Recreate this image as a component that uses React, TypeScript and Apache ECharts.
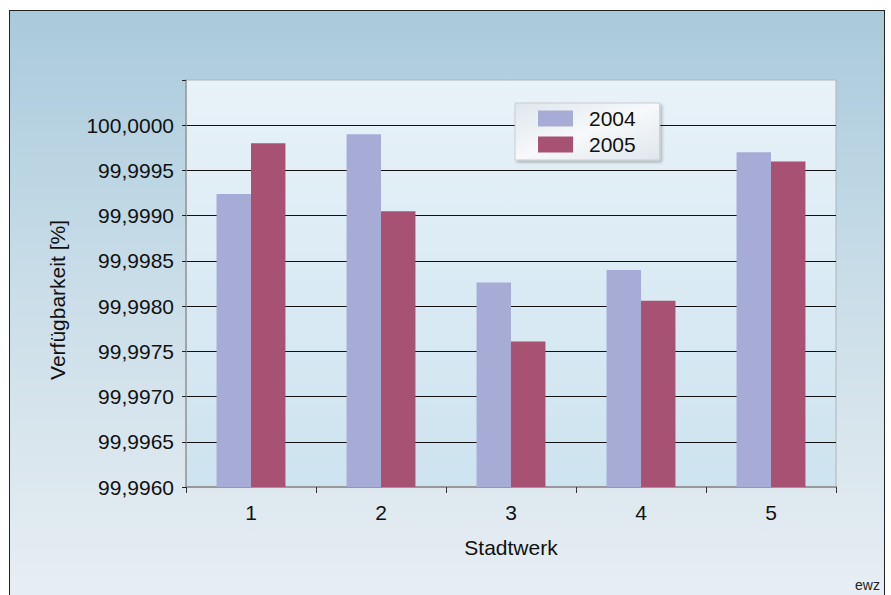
import React, { useEffect, useRef } from "react";
import * as echarts from "echarts";

const categories = ["1", "2", "3", "4", "5"];
const series2004 = [99.99924, 99.9999, 99.99826, 99.9984, 99.9997];
const series2005 = [99.9998, 99.99905, 99.99761, 99.99806, 99.9996];
const seriesNames = ["2004", "2005"];
const yMin = 99.996;
const yMax = 100.0005;
const yStep = 0.0005;

const FONT = "'Liberation Sans', Arial, Helvetica, sans-serif";

export default function App() {
  const ref = useRef<HTMLDivElement>(null);
  useEffect(() => {
    if (!ref.current) return;
    const chart = echarts.init(ref.current, undefined, { renderer: "svg" });
    chart.setOption({
      animation: false,
      backgroundColor: "transparent",
      textStyle: { fontFamily: FONT },
      grid: {
        left: 186,
        top: 80,
        right: 55,
        bottom: 108,
        show: true,
        borderColor: "#b0b4b8",
        borderWidth: 1,
        backgroundColor: new echarts.graphic.LinearGradient(0, 0, 0, 1, [
          { offset: 0, color: "#e8f2f9" },
          { offset: 1, color: "#cde3ef" },
        ]),
      },
      legend: {
        orient: "vertical",
        left: 515,
        top: 103,
        itemWidth: 35,
        itemHeight: 16,
        itemGap: 5,
        padding: [5, 24, 5, 23],
        backgroundColor: new echarts.graphic.LinearGradient(0, 0, 1, 1, [
          { offset: 0, color: "#dfe6ec" },
          { offset: 0.5, color: "#f7f9fb" },
          { offset: 1, color: "#dfe6ec" },
        ]),
        borderColor: "#c9cdd1",
        borderWidth: 1,
        shadowColor: "rgba(0,0,0,0.25)",
        shadowBlur: 3,
        shadowOffsetX: 2,
        shadowOffsetY: 2,
        icon: "rect",
        textStyle: {
          fontSize: 21,
          color: "#111",
          fontFamily: FONT,
          lineHeight: 16,
          padding: [0, 0, 0, 11],
        },
        data: seriesNames,
      },
      xAxis: {
        type: "category",
        data: categories,
        name: "Stadtwerk",
        nameLocation: "middle",
        nameGap: 50,
        nameTextStyle: { fontSize: 21, color: "#111", fontFamily: FONT },
        axisLine: { lineStyle: { color: "#999", width: 2 } },
        axisTick: { show: true, length: 6, lineStyle: { color: "#333" } },
        axisLabel: { fontSize: 21, color: "#111", margin: 15, fontFamily: FONT },
        splitLine: { show: false },
      },
      yAxis: {
        type: "value",
        min: yMin,
        max: yMax,
        interval: yStep,
        axisLine: { show: true, lineStyle: { color: "#999", width: 1.5 } },
        axisTick: { show: true, length: 4, lineStyle: { color: "#222" } },
        axisLabel: {
          fontSize: 21,
          color: "#111",
          margin: 12,
          fontFamily: FONT,
          formatter: (v: number) =>
            v > 100.0001 ? "" : v.toFixed(4).replace(".", ","),
        },
        splitLine: {
          show: true,
          showMinLine: false,
          showMaxLine: false,
          lineStyle: { color: "#111", width: 1 },
        },
      },
      series: [
        {
          name: seriesNames[0],
          type: "bar",
          data: series2004,
          barWidth: "26.5%",
          barGap: "0%",
          itemStyle: { color: "#a6acd6" },
        },
        {
          name: seriesNames[1],
          type: "bar",
          data: series2005,
          barWidth: "26.5%",
          barGap: "0%",
          itemStyle: { color: "#a85273" },
        },
      ],
      graphic: [
        {
          type: "text",
          x: 57,
          y: 300,
          rotation: Math.PI / 2,
          style: {
            text: "Verfügbarkeit [%]",
            fontSize: 21,
            fontFamily: FONT,
            fill: "#111",
            textAlign: "center",
            textVerticalAlign: "middle",
          },
        },
        {
          type: "text",
          x: 855,
          y: 578,
          style: {
            text: "ewz",
            fontSize: 14,
            fontFamily: FONT,
            fill: "#222",
            textAlign: "left",
            textVerticalAlign: "top",
          },
        },
      ],
    });
    return () => chart.dispose();
  }, []);

  return (
    <div
      style={{
        position: "fixed",
        left: 0,
        top: 0,
        width: 891,
        height: 595,
        background: "#ffffff",
        overflow: "hidden",
      }}
    >
      <div
        style={{
          position: "absolute",
          left: 9,
          top: 10,
          width: 874,
          height: 600,
          borderLeft: "1.5px solid #222",
          borderTop: "1.5px solid #222",
          borderRight: "1.5px solid #222",
          background: "linear-gradient(to bottom, #a9cadc 0%, #c9dde8 45%, #e9eff4 100%)",
        }}
      />
      <div
        ref={ref}
        style={{ position: "absolute", left: 0, top: 0, width: 891, height: 595 }}
      />
    </div>
  );
}
